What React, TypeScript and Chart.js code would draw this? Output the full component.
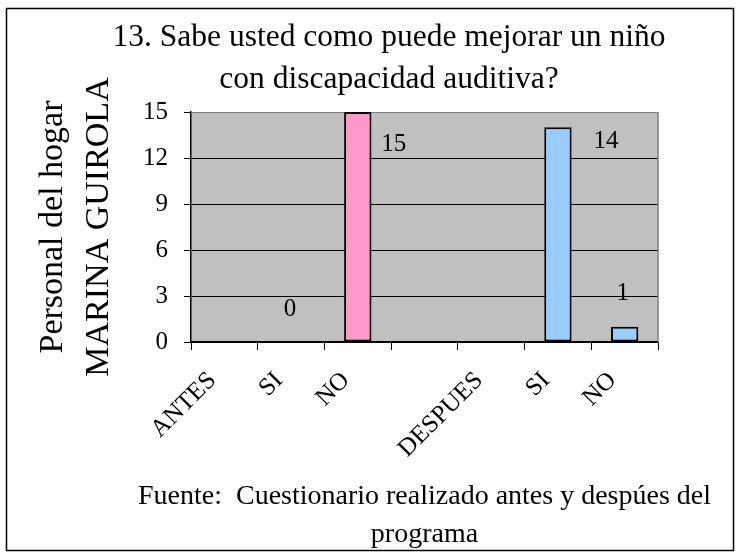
import { useEffect, useRef } from 'react';
import { Chart, registerables } from 'chart.js';

Chart.register(...registerables);

const FONT = "'Liberation Serif', 'Times New Roman', serif";

const titleLines = ['13. Sabe usted como puede mejorar un niño', 'con discapacidad auditiva?'];
const yTitleLines = ['Personal del hogar', 'MARINA GUIROLA'];
const xTitleLines = ['Fuente:  Cuestionario realizado antes y despúes del', 'programa'];
const categories = ['ANTES', 'SI', 'NO', '', 'DESPUES', 'SI', 'NO'];
const values: (number | null)[] = [null, 0, 15, null, null, 14, 1];
const yMin = 0;
const yMax = 15;
const yStep = 3;

// presentation only
const barColors = ['#FF99CC', '#FF99CC', '#FF99CC', '#99CCFF', '#99CCFF', '#99CCFF', '#99CCFF'];
const labelOffsets: [number, number][] = [[0, 0], [-1, -33], [36, 32], [0, 0], [0, 0], [48, 14], [-2, -33]];
const X_TITLE_SIZE = 28;
const X_TITLE_LH = 38;

const framePlugin = {
  id: 'frame',
  beforeDraw(chart: any) {
    const { ctx, chartArea: a } = chart;
    ctx.save();
    ctx.fillStyle = '#ffffff';
    ctx.fillRect(0, 0, chart.width, chart.height);
    ctx.fillStyle = '#C0C0C0';
    ctx.fillRect(a.left, a.top, a.right - a.left, a.bottom - a.top);
    ctx.strokeStyle = '#000';
    ctx.lineWidth = 1.5;
    ctx.strokeRect(6.5, 8.5, 727, 542);
    ctx.restore();
  },
  beforeDatasetsDraw(chart: any) {
    const { ctx, chartArea: a } = chart;
    ctx.save();
    ctx.strokeStyle = '#808080';
    ctx.lineWidth = 1.5;
    ctx.beginPath();
    ctx.moveTo(a.right, a.top);
    ctx.lineTo(a.right, a.bottom);
    ctx.stroke();
    ctx.restore();
  },
  afterDraw(chart: any) {
    // x-axis title (source note), centred under the plot area without width compression
    const { ctx } = chart;
    const xs = chart.scales.x;
    const cx = (xs.left + xs.right) / 2;
    const n = xTitleLines.length;
    ctx.save();
    ctx.fillStyle = '#000';
    ctx.font = `${X_TITLE_SIZE}px ${FONT}`;
    ctx.textAlign = 'center';
    ctx.textBaseline = 'middle';
    xTitleLines.forEach((line, i) => {
      const y = xs.bottom - X_TITLE_LH / 2 - (n - 1 - i) * X_TITLE_LH;
      ctx.fillText(line, cx, y);
    });
    ctx.restore();
  },
};

const labelPlugin = {
  id: 'valueLabels',
  afterDatasetsDraw(chart: any) {
    const { ctx } = chart;
    const meta = chart.getDatasetMeta(0);
    ctx.save();
    ctx.fillStyle = '#000';
    ctx.font = `25px ${FONT}`;
    ctx.textAlign = 'center';
    ctx.textBaseline = 'middle';
    meta.data.forEach((el: any, i: number) => {
      const v = values[i];
      if (v === null || v === undefined) return;
      const [dx, dy] = labelOffsets[i];
      ctx.fillText(String(v), el.x + dx, el.y + dy);
    });
    ctx.restore();
  },
};

export default function App() {
  const ref = useRef<HTMLCanvasElement>(null);
  useEffect(() => {
    document.body.style.margin = '0';
    const canvas = ref.current;
    if (!canvas) return;
    const chart = new Chart(canvas, {
      type: 'bar',
      data: {
        labels: categories,
        datasets: [
          {
            data: values,
            backgroundColor: barColors,
            borderColor: '#000',
            borderWidth: 2,
            borderSkipped: false,
            barPercentage: 0.41,
            categoryPercentage: 1,
          },
        ],
      },
      options: {
        responsive: false,
        animation: false,
        layout: { padding: { left: 38, right: 0, top: 0, bottom: 4 } },
        plugins: {
          legend: { display: false },
          tooltip: { enabled: false },
          title: {
            display: true,
            text: titleLines,
            color: '#000',
            font: { family: FONT, size: 31.5, weight: 'normal', lineHeight: 42 / 31.5 },
            padding: { top: 16.5, bottom: 11.5 },
          },
        },
        scales: {
          x: {
            type: 'category',
            offset: true,
            grid: { drawOnChartArea: false, drawTicks: true, tickLength: 8, color: '#000', offset: true },
            border: { color: '#000', width: 1.5 },
            ticks: {
              color: '#000',
              font: { family: FONT, size: 25 },
              maxRotation: 45,
              minRotation: 45,
              autoSkip: false,
              padding: 16,
              labelOffset: -12,
            },
            title: { display: false },
            afterFit(s: any) {
              s.height = 212;
            },
          },
          y: {
            min: yMin,
            max: yMax,
            grid: {
              color: (c: any) => (c.tick && c.tick.value === yMax ? '#808080' : '#000'),
              tickColor: '#000',
              tickLength: 7,
              lineWidth: 1,
            },
            border: { color: '#000', width: 1.5 },
            ticks: {
              stepSize: yStep,
              color: '#000',
              font: { family: FONT, size: 25 },
              padding: 16,
            },
            title: {
              display: true,
              text: yTitleLines,
              color: '#000',
              font: { family: FONT, size: 34, lineHeight: 46 / 34 },
              padding: { top: -8, bottom: 0 },
            },
            afterFit(s: any) {
              s.width = 153;
            },
          },
          yR: {
            position: 'right',
            display: true,
            grid: { display: false },
            ticks: { display: false },
            border: { display: false },
            afterFit(s: any) {
              s.width = 82;
            },
          },
        },
      },
      plugins: [framePlugin, labelPlugin],
    } as any);
    return () => chart.destroy();
  }, []);
  return <canvas ref={ref} width={740} height={558} style={{ display: 'block' }} />;
}
